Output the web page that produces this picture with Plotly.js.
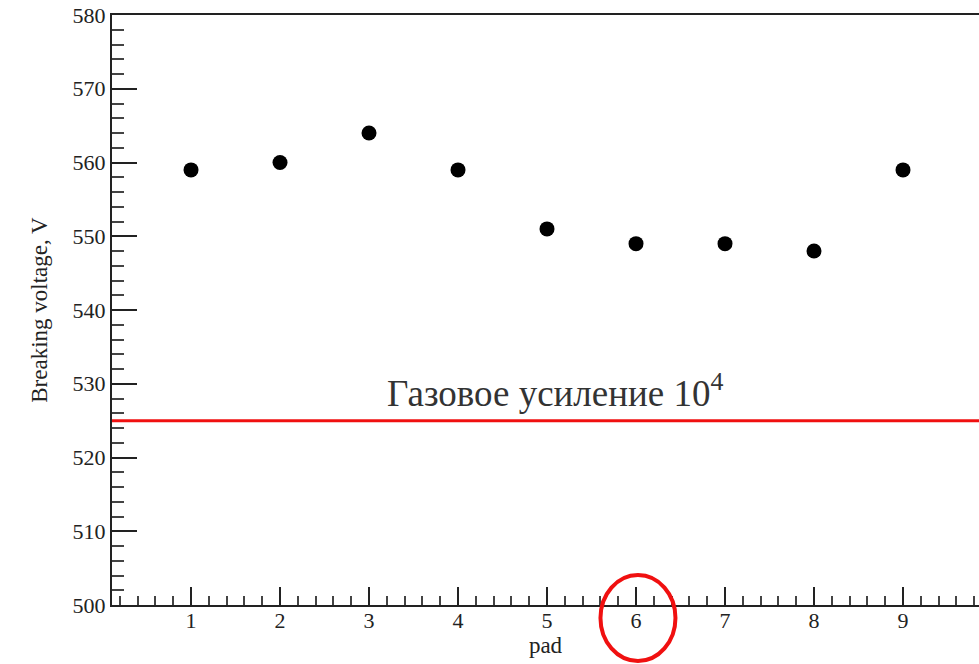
<!DOCTYPE html>
<html>
<head>
<meta charset="utf-8">
<script src="https://cdn.plot.ly/plotly-3.0.1.min.js"></script>
<style>html,body{margin:0;padding:0;background:#fff;}#chart{width:979px;height:664px;}</style>
</head>
<body>
<div id="chart"></div>
<script>
const pads = [1, 2, 3, 4, 5, 6, 7, 8, 9];
const breakingVoltage = [559, 560, 564, 559, 551, 549, 549, 548, 559];
const gainThreshold = 525;
const gainLabel = "Газовое усиление 10<sup>4</sup>";
const xTitle = "pad";
const yTitle = "Breaking voltage, V";

const serif = "'Liberation Serif', 'Times New Roman', serif";
const ink = "#222";

const trace = {
  x: pads,
  y: breakingVoltage,
  type: "scatter",
  mode: "markers",
  marker: {size: 15, color: "#000"},
  hoverinfo: "x+y",
  showlegend: false
};

const layout = {
  width: 979,
  height: 664,
  margin: {l: 112, r: 0, t: 15, b: 59, pad: 0},
  paper_bgcolor: "#fff",
  plot_bgcolor: "#fff",
  showlegend: false,
  xaxis: {
    range: [0.112, 9.854],
    tick0: 0,
    dtick: 1,
    ticks: "inside",
    ticklen: 18,
    tickwidth: 2,
    tickcolor: ink,
    ticklabelstandoff: -5,
    minor: {dtick: 0.2, ticks: "inside", ticklen: 9, tickwidth: 2, tickcolor: "#444"},
    showgrid: false,
    zeroline: false,
    showline: true,
    linecolor: ink,
    linewidth: 2,
    mirror: true,
    tickfont: {family: serif, size: 22, color: ink},
    title: {text: xTitle, font: {family: serif, size: 23, color: ink}, standoff: 0}
  },
  yaxis: {
    range: [500, 580],
    tick0: 500,
    dtick: 10,
    ticks: "inside",
    ticklen: 25,
    tickwidth: 2,
    tickcolor: ink,
    minor: {dtick: 2, ticks: "inside", ticklen: 12, tickwidth: 2, tickcolor: "#444"},
    showgrid: false,
    zeroline: false,
    showline: true,
    linecolor: ink,
    linewidth: 2,
    tickfont: {family: serif, size: 22, color: ink},
    title: {text: yTitle, font: {family: serif, size: 23, color: ink}, standoff: 19}
  },
  shapes: [
    {type: "line", xref: "paper", yref: "y", x0: 0, x1: 1, y0: gainThreshold, y1: gainThreshold,
     line: {color: "#f01010", width: 3}},
    {type: "circle", xref: "paper", yref: "paper", x0: 0.5634, x1: 0.6499, y0: -0.0949, y1: 0.0508,
     line: {color: "#f01010", width: 4}, layer: "above"}
  ],
  annotations: [
    {text: gainLabel, xref: "paper", yref: "y", x: 0.512, y: 529.1, xanchor: "center", yanchor: "middle",
     showarrow: false, font: {family: serif, size: 37, color: "#333"}}
  ]
};

Plotly.newPlot("chart", [trace], layout, {displayModeBar: false, staticPlot: true});
</script>
</body>
</html>
